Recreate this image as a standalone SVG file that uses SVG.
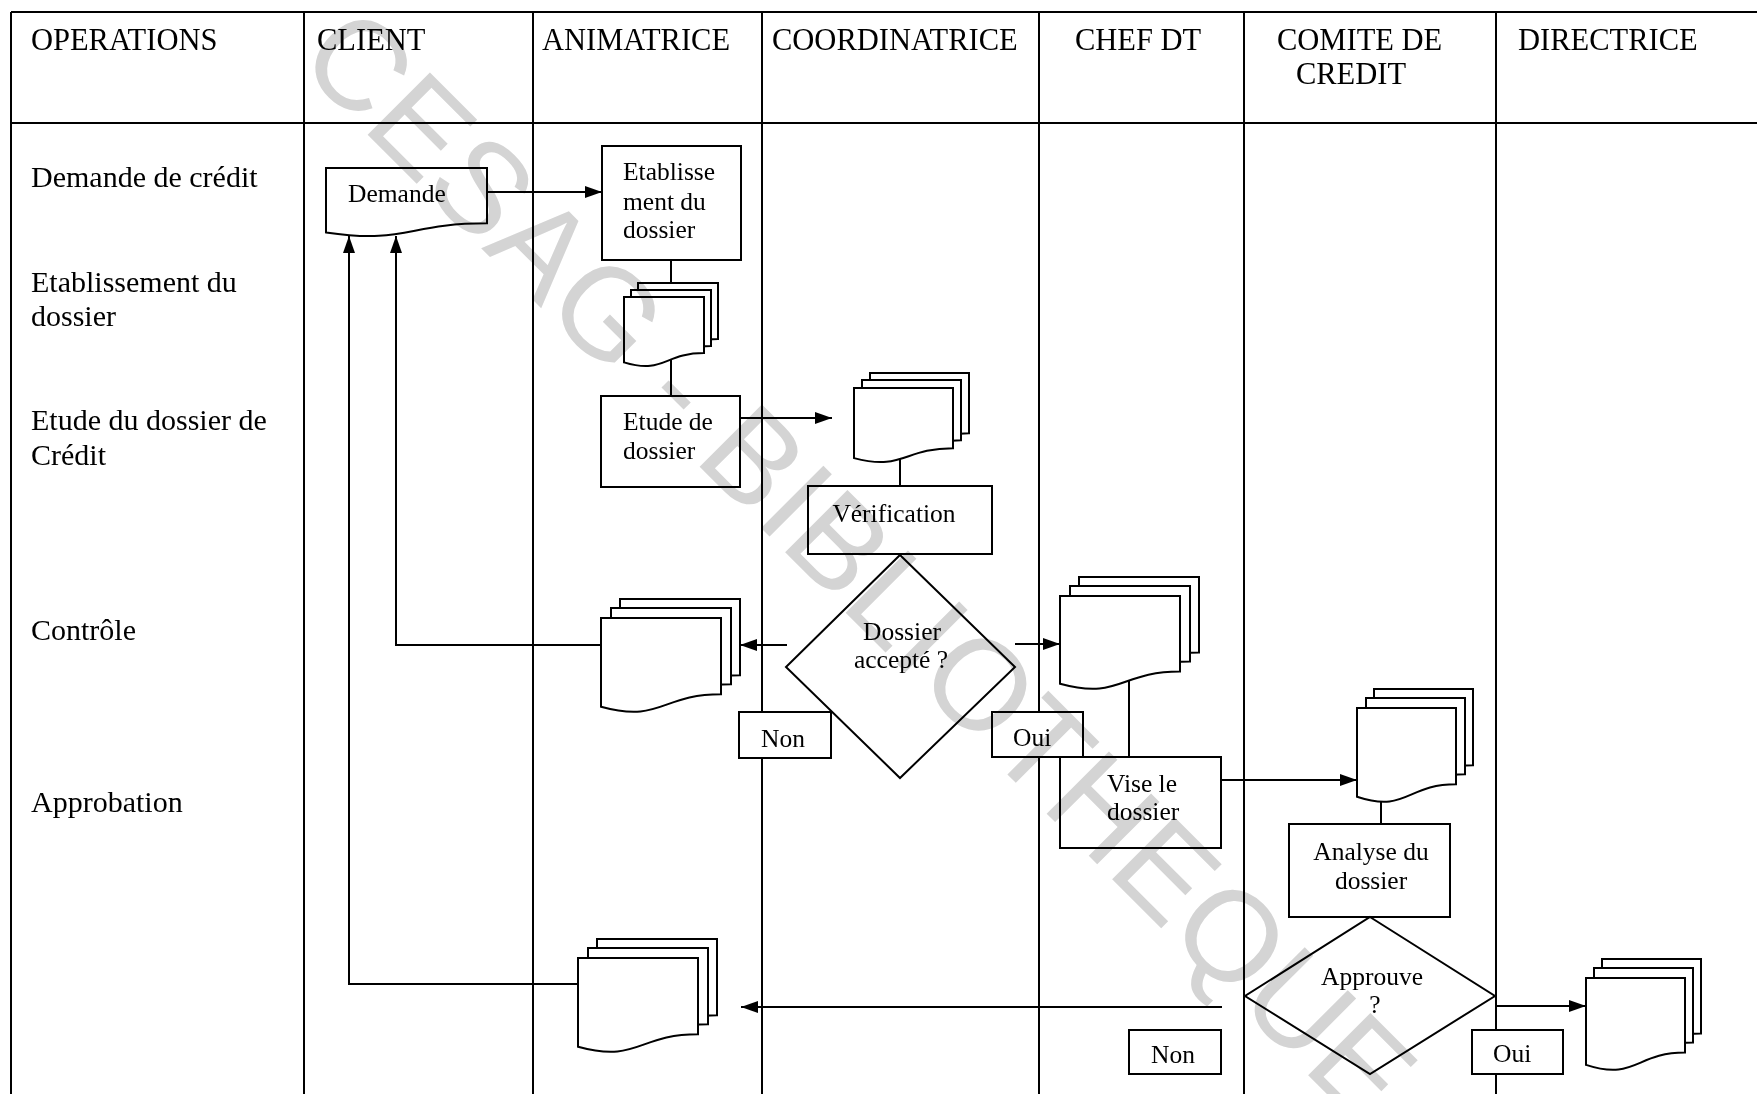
<svg xmlns="http://www.w3.org/2000/svg" width="1757" height="1094" viewBox="0 0 1757 1094">
<defs>
<style>
.grid{stroke:#000;stroke-width:2;fill:none}
.shape{stroke:#000;stroke-width:2;fill:#fff}
.conn{stroke:#000;stroke-width:2;fill:none}
.hd{font-family:"Liberation Serif","Times New Roman",serif;font-size:30.5px;fill:#000}
.lb{font-family:"Liberation Serif","Times New Roman",serif;font-size:30px;fill:#000}
.tx{font-family:"Liberation Serif","Times New Roman",serif;font-size:25.5px;fill:#000}
.mid{text-anchor:middle}
.wm{font-family:"Liberation Sans",Arial,sans-serif;font-size:128px;fill:#d4d4d4}
</style>
<marker id="arr" markerUnits="userSpaceOnUse" markerWidth="18" markerHeight="13" refX="17" refY="6" orient="auto">
<path d="M0,0 L17,6 L0,12 Z" fill="#000"/>
</marker>
</defs>
<rect x="0" y="0" width="1757" height="1094" fill="#fff"/>

<g id="table">
<line class="grid" x1="11" y1="12" x2="1757" y2="12"/>
<line class="grid" x1="11" y1="123" x2="1757" y2="123"/>
<line class="grid" x1="11" y1="12" x2="11" y2="1094"/>
<line class="grid" x1="304" y1="12" x2="304" y2="1094"/>
<line class="grid" x1="533" y1="12" x2="533" y2="1094"/>
<line class="grid" x1="762" y1="12" x2="762" y2="1094"/>
<line class="grid" x1="1039" y1="12" x2="1039" y2="1094"/>
<line class="grid" x1="1244" y1="12" x2="1244" y2="1094"/>
<line class="grid" x1="1496" y1="12" x2="1496" y2="1094"/>
<text class="hd" x="31" y="50">OPERATIONS</text>
<text class="hd" x="317" y="50">CLIENT</text>
<text class="hd" x="542" y="50">ANIMATRICE</text>
<text class="hd" x="772" y="50">COORDINATRICE</text>
<text class="hd" x="1075" y="50">CHEF DT</text>
<text class="hd" x="1277" y="50">COMITE DE</text>
<text class="hd mid" x="1351" y="84">CREDIT</text>
<text class="hd" x="1518" y="50">DIRECTRICE</text>
<text class="lb" x="31" y="187">Demande de crédit</text>
<text class="lb" x="31" y="292">Etablissement du</text>
<text class="lb" x="31" y="326">dossier</text>
<text class="lb" x="31" y="430">Etude du dossier de</text>
<text class="lb" x="31" y="465">Crédit</text>
<text class="lb" x="31" y="640">Contrôle</text>
<text class="lb" x="31" y="812">Approbation</text>
</g>

<g id="connectors">
<line class="conn" x1="487" y1="192" x2="602" y2="192" marker-end="url(#arr)"/>
<line class="conn" x1="671" y1="260" x2="671" y2="285"/>
<line class="conn" x1="671" y1="355" x2="671" y2="396"/>
<line class="conn" x1="740" y1="418" x2="832" y2="418" marker-end="url(#arr)"/>
<line class="conn" x1="900" y1="450" x2="900" y2="486"/>
<line class="conn" x1="787" y1="645" x2="740" y2="645" marker-end="url(#arr)"/>
<polyline class="conn" points="601,645 396,645 396,236" marker-end="url(#arr)"/>
<line class="conn" x1="1015" y1="644" x2="1060" y2="644" marker-end="url(#arr)"/>
<line class="conn" x1="1129" y1="680" x2="1129" y2="757"/>
<line class="conn" x1="1221" y1="780" x2="1357" y2="780" marker-end="url(#arr)"/>
<line class="conn" x1="1381" y1="790" x2="1381" y2="824"/>
<line class="conn" x1="1222" y1="1007" x2="741" y2="1007" marker-end="url(#arr)"/>
<line class="conn" x1="1496" y1="1006" x2="1586" y2="1006" marker-end="url(#arr)"/>
<polyline class="conn" points="578,984 349,984 349,236" marker-end="url(#arr)"/>
</g>

<g id="demande">
<path class="shape" d="M326,168 H487 V223.3 C406.5,223.3 406.5,244.4 326,232.4 Z"/>
<text class="tx" x="348" y="202">Demande</text>
</g>

<g id="etablissement">
<rect class="shape" x="602" y="146" width="139" height="114"/>
<text class="tx" x="623" y="180">Etablisse</text>
<text class="tx" x="623" y="210">ment du</text>
<text class="tx" x="623" y="238">dossier</text>
</g>

<g id="doc-etablissement">
<path class="shape" d="M638,283 H718 V339.1 C678,339.1 678,360.5 638,348.4 Z"/>
<path class="shape" d="M631,290 H711 V346.1 C671,346.1 671,367.5 631,355.4 Z"/>
<path class="shape" d="M624,297 H704 V353.1 C664,353.1 664,374.5 624,362.4 Z"/>
</g>

<g id="etude">
<rect class="shape" x="601" y="396" width="139" height="91"/>
<text class="tx" x="623" y="430">Etude de</text>
<text class="tx" x="623" y="459">dossier</text>
</g>

<g id="doc-coordinatrice">
<path class="shape" d="M870,373 H969 V433.2 C919.5,433.2 919.5,456 870,443.1 Z"/>
<path class="shape" d="M862,380 H961 V440.2 C911.5,440.2 911.5,463 862,450.1 Z"/>
<path class="shape" d="M854,388 H953 V448.2 C903.5,448.2 903.5,471 854,458.1 Z"/>
</g>

<g id="verification">
<rect class="shape" x="808" y="486" width="184" height="68"/>
<text class="tx mid" x="894" y="522">Vérification</text>
</g>

<g id="dossier-accepte">
<polygon class="shape" points="900,555 1015,667 900,778 786,667"/>
<text class="tx mid" x="902" y="640">Dossier</text>
<text class="tx mid" x="901" y="668">accepté ?</text>
</g>

<g id="non-1">
<rect class="shape" x="739" y="712" width="92" height="46"/>
<text class="tx mid" x="783" y="747">Non</text>
</g>

<g id="oui-1">
<rect class="shape" x="992" y="712" width="91" height="45"/>
<text class="tx" x="1013" y="746">Oui</text>
</g>

<g id="doc-controle">
<path class="shape" d="M620,599 H740 V675.2 C680,675.2 680,704.2 620,687.7 Z"/>
<path class="shape" d="M611,608 H731 V684.2 C671,684.2 671,713.2 611,696.7 Z"/>
<path class="shape" d="M601,618 H721 V694.2 C661,694.2 661,723.2 601,706.7 Z"/>
</g>

<g id="doc-chef">
<path class="shape" d="M1079,577 H1199 V652.4 C1139,652.4 1139,681.1 1079,664.8 Z"/>
<path class="shape" d="M1070,586 H1190 V661.4 C1130,661.4 1130,690.1 1070,673.8 Z"/>
<path class="shape" d="M1060,596 H1180 V671.4 C1120,671.4 1120,700.1 1060,683.8 Z"/>
</g>

<g id="vise">
<rect class="shape" x="1060" y="757" width="161" height="91"/>
<text class="tx" x="1107" y="792">Vise le</text>
<text class="tx" x="1107" y="820">dossier</text>
</g>

<g id="doc-comite">
<path class="shape" d="M1374,689 H1473 V765.2 C1423.5,765.2 1423.5,794.2 1374,777.7 Z"/>
<path class="shape" d="M1366,698 H1465 V774.2 C1415.5,774.2 1415.5,803.2 1366,786.7 Z"/>
<path class="shape" d="M1357,708 H1456 V784.2 C1406.5,784.2 1406.5,813.2 1357,796.7 Z"/>
</g>

<g id="analyse">
<rect class="shape" x="1289" y="824" width="161" height="93"/>
<text class="tx mid" x="1371" y="860">Analyse du</text>
<text class="tx mid" x="1371" y="889">dossier</text>
</g>

<g id="approuve">
<polygon class="shape" points="1370,917 1495,996 1370,1074 1245,996"/>
<text class="tx mid" x="1372" y="985">Approuve</text>
<text class="tx mid" x="1375" y="1013">?</text>
</g>

<g id="non-2">
<rect class="shape" x="1129" y="1030" width="92" height="44"/>
<text class="tx" x="1151" y="1063">Non</text>
</g>

<g id="oui-2">
<rect class="shape" x="1472" y="1030" width="91" height="44"/>
<text class="tx" x="1493" y="1062">Oui</text>
</g>

<g id="doc-directrice">
<path class="shape" d="M1602,959 H1701 V1033.6 C1651.5,1033.6 1651.5,1062 1602,1045.9 Z"/>
<path class="shape" d="M1594,968 H1693 V1042.6 C1643.5,1042.6 1643.5,1071 1594,1054.9 Z"/>
<path class="shape" d="M1586,978 H1685 V1052.6 C1635.5,1052.6 1635.5,1081 1586,1064.9 Z"/>
</g>

<g id="doc-retour">
<path class="shape" d="M597,939 H717 V1015.2 C657,1015.2 657,1044.2 597,1027.7 Z"/>
<path class="shape" d="M588,948 H708 V1024.2 C648,1024.2 648,1053.2 588,1036.7 Z"/>
<path class="shape" d="M578,958 H698 V1034.2 C638,1034.2 638,1063.2 578,1046.7 Z"/>
</g>

<g id="watermark" style="mix-blend-mode:multiply">
<text class="wm" transform="translate(295,62) rotate(45)">CESAG - BIBLIOTHEQUE</text>
</g>
</svg>
